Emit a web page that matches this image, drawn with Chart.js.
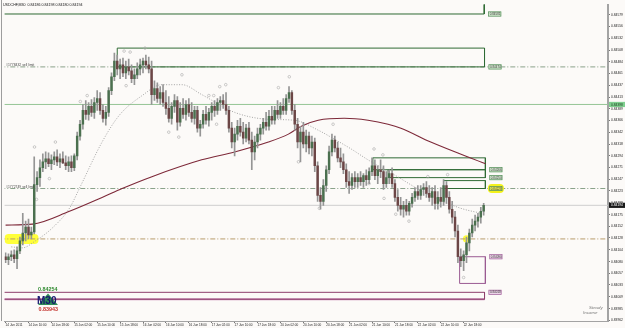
<!DOCTYPE html>
<html>
<head>
<meta charset="utf-8">
<script src="https://cdn.jsdelivr.net/npm/chart.js@4.4.1/dist/chart.umd.min.js"></script>
<style>
  html, body { margin: 0; padding: 0; background: #fcfaf8; }
  #wrap { width: 625px; height: 328px; }
</style>
</head>
<body>
<div id="wrap"><canvas id="c" width="625" height="328"></canvas></div>
<script>
// ── Data (USDCHF M30, one candle per hour) ──────────────────────────────────

const opens = [
  0.84090, 0.84084, 0.84090, 0.84094, 0.84086, 0.84102, 0.84122, 0.84138, 0.84150, 0.84134,
  0.84140, 0.84236, 0.84250, 0.84270, 0.84282, 0.84288, 0.84278, 0.84286, 0.84292, 0.84282,
  0.84288, 0.84280, 0.84274, 0.84282, 0.84270, 0.84294, 0.84334, 0.84358, 0.84386, 0.84378,
  0.84394, 0.84382, 0.84402, 0.84410, 0.84386, 0.84370, 0.84382, 0.84426, 0.84454, 0.84486,
  0.84470, 0.84478, 0.84462, 0.84474, 0.84466, 0.84450, 0.84458, 0.84470, 0.84478, 0.84486,
  0.84478, 0.84470, 0.84418, 0.84430, 0.84410, 0.84422, 0.84402, 0.84390, 0.84370, 0.84394,
  0.84406, 0.84362, 0.84390, 0.84378, 0.84398, 0.84382, 0.84370, 0.84386, 0.84350, 0.84358,
  0.84378, 0.84366, 0.84382, 0.84394, 0.84386, 0.84402, 0.84406, 0.84398, 0.84386, 0.84350,
  0.84322, 0.84338, 0.84354, 0.84342, 0.84330, 0.84350, 0.84326, 0.84302, 0.84322, 0.84338,
  0.84350, 0.84362, 0.84354, 0.84374, 0.84366, 0.84386, 0.84378, 0.84394, 0.84386, 0.84410,
  0.84422, 0.84386, 0.84358, 0.84322, 0.84342, 0.84318, 0.84334, 0.84310, 0.84322, 0.84274,
  0.84214, 0.84202, 0.84234, 0.84266, 0.84302, 0.84326, 0.84310, 0.84290, 0.84282, 0.84266,
  0.84242, 0.84234, 0.84250, 0.84242, 0.84250, 0.84242, 0.84254, 0.84246, 0.84262, 0.84274,
  0.84254, 0.84266, 0.84262, 0.84238, 0.84250, 0.84258, 0.84238, 0.84210, 0.84194, 0.84186,
  0.84194, 0.84182, 0.84198, 0.84210, 0.84222, 0.84214, 0.84226, 0.84230, 0.84218, 0.84210,
  0.84222, 0.84198, 0.84210, 0.84202, 0.84234, 0.84210, 0.84186, 0.84170, 0.84142, 0.84090,
  0.84082, 0.84094, 0.84118, 0.84138, 0.84154, 0.84162, 0.84170, 0.84182
];
const highs = [
  0.84098, 0.84096, 0.84102, 0.84104, 0.84110, 0.84130, 0.84178, 0.84162, 0.84166, 0.84150,
  0.84292, 0.84262, 0.84286, 0.84298, 0.84302, 0.84300, 0.84296, 0.84302, 0.84306, 0.84298,
  0.84302, 0.84294, 0.84292, 0.84294, 0.84298, 0.84342, 0.84366, 0.84398, 0.84406, 0.84402,
  0.84408, 0.84412, 0.84426, 0.84422, 0.84398, 0.84394, 0.84432, 0.84462, 0.84502, 0.84498,
  0.84490, 0.84492, 0.84486, 0.84490, 0.84478, 0.84470, 0.84482, 0.84490, 0.84492, 0.84498,
  0.84494, 0.84486, 0.84446, 0.84442, 0.84434, 0.84438, 0.84426, 0.84414, 0.84402, 0.84418,
  0.84414, 0.84402, 0.84410, 0.84406, 0.84410, 0.84402, 0.84394, 0.84394, 0.84366, 0.84386,
  0.84394, 0.84390, 0.84402, 0.84406, 0.84410, 0.84414, 0.84418, 0.84422, 0.84394, 0.84362,
  0.84350, 0.84366, 0.84370, 0.84362, 0.84358, 0.84362, 0.84342, 0.84334, 0.84350, 0.84358,
  0.84370, 0.84382, 0.84386, 0.84394, 0.84394, 0.84406, 0.84402, 0.84410, 0.84418, 0.84434,
  0.84426, 0.84398, 0.84370, 0.84354, 0.84362, 0.84346, 0.84342, 0.84334, 0.84330, 0.84282,
  0.84230, 0.84246, 0.84274, 0.84314, 0.84338, 0.84334, 0.84322, 0.84310, 0.84298, 0.84278,
  0.84262, 0.84258, 0.84262, 0.84258, 0.84262, 0.84258, 0.84266, 0.84270, 0.84290, 0.84286,
  0.84274, 0.84286, 0.84274, 0.84262, 0.84266, 0.84270, 0.84246, 0.84226, 0.84210, 0.84202,
  0.84206, 0.84202, 0.84218, 0.84230, 0.84234, 0.84234, 0.84238, 0.84242, 0.84234, 0.84230,
  0.84234, 0.84222, 0.84230, 0.84246, 0.84242, 0.84222, 0.84202, 0.84182, 0.84154, 0.84106,
  0.84102, 0.84130, 0.84146, 0.84166, 0.84174, 0.84178, 0.84190, 0.84198
];
const lows = [
  0.84078, 0.84074, 0.84082, 0.84078, 0.84066, 0.84096, 0.84114, 0.84122, 0.84126, 0.84126,
  0.84136, 0.84222, 0.84232, 0.84262, 0.84268, 0.84272, 0.84266, 0.84276, 0.84274, 0.84270,
  0.84278, 0.84266, 0.84262, 0.84262, 0.84264, 0.84286, 0.84326, 0.84348, 0.84368, 0.84366,
  0.84374, 0.84370, 0.84386, 0.84378, 0.84362, 0.84356, 0.84374, 0.84418, 0.84446, 0.84458,
  0.84450, 0.84454, 0.84450, 0.84458, 0.84442, 0.84438, 0.84450, 0.84458, 0.84462, 0.84470,
  0.84462, 0.84398, 0.84406, 0.84402, 0.84398, 0.84394, 0.84378, 0.84362, 0.84358, 0.84382,
  0.84346, 0.84354, 0.84370, 0.84366, 0.84374, 0.84362, 0.84358, 0.84342, 0.84334, 0.84350,
  0.84358, 0.84354, 0.84366, 0.84374, 0.84378, 0.84386, 0.84390, 0.84378, 0.84342, 0.84310,
  0.84294, 0.84326, 0.84334, 0.84318, 0.84322, 0.84318, 0.84266, 0.84286, 0.84310, 0.84326,
  0.84338, 0.84346, 0.84346, 0.84358, 0.84358, 0.84370, 0.84370, 0.84378, 0.84378, 0.84402,
  0.84378, 0.84346, 0.84310, 0.84282, 0.84310, 0.84302, 0.84298, 0.84294, 0.84262, 0.84202,
  0.84186, 0.84194, 0.84222, 0.84258, 0.84294, 0.84302, 0.84282, 0.84270, 0.84258, 0.84230,
  0.84218, 0.84226, 0.84230, 0.84230, 0.84234, 0.84230, 0.84234, 0.84238, 0.84254, 0.84246,
  0.84238, 0.84250, 0.84226, 0.84230, 0.84238, 0.84230, 0.84202, 0.84182, 0.84174, 0.84170,
  0.84174, 0.84174, 0.84190, 0.84202, 0.84206, 0.84206, 0.84214, 0.84210, 0.84202, 0.84194,
  0.84186, 0.84186, 0.84190, 0.84194, 0.84198, 0.84178, 0.84158, 0.84130, 0.84078, 0.84070,
  0.84062, 0.84078, 0.84102, 0.84130, 0.84142, 0.84150, 0.84158, 0.84174
];
const closes = [
  0.84084, 0.84090, 0.84094, 0.84086, 0.84102, 0.84122, 0.84138, 0.84150, 0.84134, 0.84140,
  0.84236, 0.84250, 0.84270, 0.84282, 0.84288, 0.84278, 0.84286, 0.84292, 0.84282, 0.84288,
  0.84280, 0.84274, 0.84282, 0.84270, 0.84294, 0.84334, 0.84358, 0.84386, 0.84378, 0.84394,
  0.84382, 0.84402, 0.84410, 0.84386, 0.84370, 0.84382, 0.84426, 0.84454, 0.84486, 0.84470,
  0.84478, 0.84462, 0.84474, 0.84466, 0.84450, 0.84458, 0.84470, 0.84478, 0.84486, 0.84478,
  0.84470, 0.84418, 0.84430, 0.84410, 0.84422, 0.84402, 0.84390, 0.84370, 0.84394, 0.84406,
  0.84362, 0.84390, 0.84378, 0.84398, 0.84382, 0.84370, 0.84386, 0.84350, 0.84358, 0.84378,
  0.84366, 0.84382, 0.84394, 0.84386, 0.84402, 0.84406, 0.84398, 0.84386, 0.84350, 0.84322,
  0.84338, 0.84354, 0.84342, 0.84330, 0.84350, 0.84326, 0.84302, 0.84322, 0.84338, 0.84350,
  0.84362, 0.84354, 0.84374, 0.84366, 0.84386, 0.84378, 0.84394, 0.84386, 0.84410, 0.84422,
  0.84386, 0.84358, 0.84322, 0.84342, 0.84318, 0.84334, 0.84310, 0.84322, 0.84274, 0.84214,
  0.84202, 0.84234, 0.84266, 0.84302, 0.84326, 0.84310, 0.84290, 0.84282, 0.84266, 0.84242,
  0.84234, 0.84250, 0.84242, 0.84250, 0.84242, 0.84254, 0.84246, 0.84262, 0.84274, 0.84254,
  0.84266, 0.84262, 0.84238, 0.84250, 0.84258, 0.84238, 0.84210, 0.84194, 0.84186, 0.84194,
  0.84182, 0.84198, 0.84210, 0.84222, 0.84214, 0.84226, 0.84230, 0.84218, 0.84210, 0.84222,
  0.84198, 0.84210, 0.84202, 0.84234, 0.84210, 0.84186, 0.84170, 0.84142, 0.84090, 0.84082,
  0.84094, 0.84118, 0.84138, 0.84154, 0.84162, 0.84170, 0.84182, 0.84194
];

// moving averages (bar index, price)
const slowMaX = [0, 9.4, 22.3, 33.7, 40.7, 51.1, 68.5, 80, 91.8, 98.8, 103.3, 109.2, 118.3, 126.6, 133.6, 138.1, 148.5, 167.7];
const slowMaY = [0.84154, 0.84156, 0.84182, 0.84210, 0.84228, 0.84252, 0.84286, 0.84302, 0.84322, 0.84338,
                 0.84354, 0.84366, 0.84370, 0.84366, 0.84358, 0.84350, 0.84322, 0.84278];
const fastMaX = [2, 5.9, 10.4, 16.3, 22.3, 26.1, 33.7, 39.7, 47.7, 54.6, 61.6, 68.5, 80, 91.8, 100.9,
                 109.2, 114.8, 120.7, 126.6, 135.7, 147.5, 159, 166];
const fastMaY = [0.84110, 0.84108, 0.84122, 0.84148, 0.84188, 0.84232, 0.84322, 0.84376, 0.84416, 0.84438,
                 0.84438, 0.84418, 0.84382, 0.84368, 0.84366, 0.84346, 0.84328, 0.84308, 0.84286, 0.84256,
                 0.84216, 0.84188, 0.84178];

// fractal dots
const fractalX = [41.4, 43.5, 48.7, 61.6, 42.1, 28.5, 26.1, 17.4, 10.1, 15.3, 57, 60.5, 99.1, 95.3, 76.9, 74.8,
                  73.7, 71, 72.7, 102.3, 114.4, 128.7, 131.8, 127, 132.2, 109.6, 147.5, 136.3, 140.9, 154.4, 160, 10.8];
const fractalY = [0.84506, 0.84504, 0.84512, 0.84458, 0.84436, 0.84416, 0.84404, 0.84322, 0.84312, 0.84248,
                  0.84342, 0.84332, 0.84454, 0.84432, 0.84438, 0.84434, 0.84358, 0.84416, 0.84416, 0.84282,
                  0.84358, 0.84308, 0.84296, 0.84238, 0.84208, 0.84188, 0.84252, 0.84176, 0.84162, 0.84256,
                  0.84048, 0.84206];

// rectangles
const greenBoxFrom = [-5, 39, 128.3, 133.6, 153];
const greenBoxTo   = [167.2, 167.3, 167.6, 167.6, 167.6];
const greenBoxHigh = [0.84700, 0.84512, 0.84290, 0.84266, 0.84244];
const greenBoxLow  = [0.84581, 0.84474, 0.84266, 0.84250, 0.84228];
const purpleBoxFrom = [158.6, -5];
const purpleBoxTo   = [167.6, 167.3];
const purpleBoxHigh = [0.84090, 0.84018];
const purpleBoxLow  = [0.84036, 0.84004];

// horizontal levels
const greenLevel = 0.84398;
const bidPrice = 0.84194;
const orderLevels = [0.84474, 0.84228];
const orderNames = ["#1778432 sell limit", "#1772749 sell limit"];
const tanLevel = 0.84126;

// highlights
const yellowZone = { from: -0.35, to: 11.5, high: 0.84136, low: 0.84116 };
const yellowDot = { x: 161, y: 0.84126 };

// axes
const timeTicks = [0, 8, 16, 24, 32, 40, 48, 56, 64, 72, 80, 88, 96, 104, 112, 120, 128, 136, 144, 152, 160];
const timeLabels = ["14 Jun 2011", "14 Jun 10:00", "14 Jun 18:00", "15 Jun 02:00", "15 Jun 10:00", "15 Jun 18:00",
  "16 Jun 02:00", "16 Jun 10:00", "16 Jun 18:00", "17 Jun 02:00", "17 Jun 10:00", "17 Jun 18:00",
  "20 Jun 02:00", "20 Jun 10:00", "20 Jun 18:00", "21 Jun 02:00", "21 Jun 10:00", "21 Jun 18:00",
  "22 Jun 02:00", "22 Jun 10:00", "22 Jun 18:00"];
const priceTicks = [0.84579, 0.84556, 0.84532, 0.84508, 0.84484, 0.84461, 0.84437, 0.84413, 0.84389, 0.84366,
  0.84342, 0.84318, 0.84294, 0.84271, 0.84247, 0.84223, 0.84199, 0.84175, 0.84152, 0.84128,
  0.84104, 0.84080, 0.84057, 0.84033, 0.84009, 0.83985, 0.83962];

const titleText = "USDCHF,M30  0.84186 0.84198 0.84180 0.84194";
const dayHigh = "0.84254";
const dayLow = "0.83943";

// ── Helpers ─────────────────────────────────────────────────────────────────

const X_MIN = -0.348, X_MAX = 210.43;
const FONT = '"Liberation Sans", Arial, sans-serif';

function rect(x0, x1, hi, lo) {
  return [{ x: x0, y: hi }, { x: x1, y: hi }, { x: x1, y: lo }, { x: x0, y: lo }, { x: x0, y: hi }];
}
function hline(p) {
  return [{ x: X_MIN - 5, y: p }, { x: X_MAX + 5, y: p }];
}
function lineSet(data, color, extra) {
  return Object.assign({ type: "line", data, borderColor: color, borderWidth: 1, pointRadius: 0,
    fill: false, tension: 0, order: 5 }, extra || {});
}

const datasets = [];

// candles
datasets.push({
  type: "bar", data: highs.map((h, i) => ({ x: i, y: [lows[i], h] })),
  backgroundColor: "#959595", barThickness: 1, grouped: false, order: 2
});
datasets.push({
  type: "bar", data: opens.map((o, i) => ({ x: i, y: [o, closes[i]] })),
  backgroundColor: opens.map((o, i) => closes[i] >= o ? "#4b704f" : "#6c4646"),
  barThickness: 1.8, grouped: false, order: 1
});

// moving averages
datasets.push(lineSet(slowMaX.map((x, i) => ({ x, y: slowMaY[i] })), "#7d2838",
  { borderWidth: 1.1, cubicInterpolationMode: "monotone", order: 3 }));
datasets.push(lineSet(fastMaX.map((x, i) => ({ x, y: fastMaY[i] })), "#9a9a9a",
  { borderWidth: 0.9, borderDash: [1, 1.6], cubicInterpolationMode: "monotone", order: 3 }));

// fractals
datasets.push({
  type: "line", showLine: false, data: fractalX.map((x, i) => ({ x, y: fractalY[i] })),
  pointRadius: 1.3, pointBorderWidth: 0.6, pointBorderColor: "#aaaaaa", pointBackgroundColor: "rgba(0,0,0,0)",
  order: 4
});

// levels
datasets.push(lineSet(hline(greenLevel), "#95c595", { order: 6 }));
datasets.push(lineSet(hline(bidPrice), "#cfcfcf", { order: 6 }));
orderLevels.forEach(p => datasets.push(lineSet(hline(p), "#8aa28a", { borderDash: [5, 2, 1, 2], order: 6 })));
datasets.push(lineSet(hline(tanLevel), "#b89c6c", { borderDash: [5, 2, 1, 2], order: 6 }));

// rectangles
greenBoxFrom.forEach((f, i) => datasets.push(lineSet(rect(f, greenBoxTo[i], greenBoxHigh[i], greenBoxLow[i]), "#2f6a34")));
datasets.push(lineSet(rect(purpleBoxFrom[0], purpleBoxTo[0], purpleBoxHigh[0], purpleBoxLow[0]), "#9a5a92"));
datasets.push(lineSet(rect(purpleBoxFrom[1], purpleBoxTo[1], purpleBoxHigh[1], purpleBoxLow[1]), "#8e3f6c"));
datasets.push(lineSet(hline(purpleBoxLow[1]).map((p, i) => ({ x: i ? purpleBoxTo[1] : purpleBoxFrom[1], y: p.y })),
  "#c98fb7", { borderWidth: 2 }));

// ── Drawing extras ──────────────────────────────────────────────────────────

function tag(c, x, y, text, fill, stroke) {
  c.fillStyle = fill;
  c.fillRect(x, y - 2.5, 13, 5);
  c.strokeStyle = stroke;
  c.lineWidth = 0.7;
  c.strokeRect(x + 0.35, y - 2.15, 12.3, 4.3);
  c.fillStyle = "#333";
  c.font = "3px " + FONT;
  c.textBaseline = "middle";
  c.textAlign = "left";
  c.fillText(text, x + 1.4, y + 0.2);
}

const extras = {
  id: "extras",
  beforeDraw(chart) {
    const c = chart.ctx;
    c.save();
    c.fillStyle = "#fcfaf8";
    c.fillRect(0, 0, chart.width, chart.height);
    c.restore();
  },
  beforeDatasetsDraw(chart) {
    const c = chart.ctx, xs = chart.scales.x, ys = chart.scales.y, a = chart.chartArea;
    c.save();
    c.beginPath();
    c.rect(a.left, a.top, a.right - a.left, a.bottom - a.top);
    c.clip();
    c.fillStyle = "#ffff3a";
    const x0 = xs.getPixelForValue(yellowZone.from), x1 = xs.getPixelForValue(yellowZone.to);
    const y0 = ys.getPixelForValue(yellowZone.high), y1 = ys.getPixelForValue(yellowZone.low);
    c.beginPath();
    c.roundRect(x0, y0, x1 - x0, y1 - y0, 4);
    c.fill();
    c.beginPath();
    c.arc(xs.getPixelForValue(yellowDot.x), ys.getPixelForValue(yellowDot.y), 3.6, 0, Math.PI * 2);
    c.fill();
    c.restore();
  },
  afterDatasetsDraw(chart) {
    const c = chart.ctx, xs = chart.scales.x, ys = chart.scales.y, a = chart.chartArea;
    c.save();

    // labels next to the rectangles
    greenBoxLow.forEach((p, i) => {
      const x = xs.getPixelForValue(greenBoxTo[i]) + 4, y = ys.getPixelForValue(p);
      if (i === 4) {
        c.fillStyle = "#f4f21c";
        c.beginPath();
        c.roundRect(x - 1.5, y - 4.5, 16, 9, 4);
        c.fill();
      }
      tag(c, x, y, p.toFixed(5), i === 4 ? "#e9ef5a" : "#d6ebd2", "#4f8a55");
    });
    purpleBoxHigh.forEach((p, i) => {
      const x = xs.getPixelForValue(purpleBoxTo[i]) + 4, y = ys.getPixelForValue(p);
      tag(c, x, y, p.toFixed(5), "#ecd3e8", "#a0629a");
    });

    // order names on the left
    c.fillStyle = "#4a4a4a";
    c.font = "3.4px " + FONT;
    c.textAlign = "left";
    c.textBaseline = "alphabetic";
    orderLevels.forEach((p, i) => c.fillText(orderNames[i], a.left + 1.5, ys.getPixelForValue(p) - 0.8));

    // price axis markers
    const gy = ys.getPixelForValue(greenLevel);
    c.fillStyle = "#7fcf8f";
    c.fillRect(a.right + 1, gy - 2.6, 16, 5.2);
    c.fillStyle = "#1d3d1d";
    c.font = "3.3px " + FONT;
    c.textBaseline = "middle";
    c.fillText(greenLevel.toFixed(5), a.right + 3, gy + 0.2);
    const by = ys.getPixelForValue(bidPrice);
    c.fillStyle = "#1a1a1a";
    c.fillRect(a.right + 1, by - 2.6, 16, 5.2);
    c.fillStyle = "#ffffff";
    c.fillText(bidPrice.toFixed(5), a.right + 3, by + 0.2);

    // title
    c.fillStyle = "#111";
    c.font = "3.6px " + FONT;
    c.textBaseline = "middle";
    c.fillText(titleText, 3, 4.5);

    // day range widget
    c.fillStyle = "#2e8b57";
    c.beginPath();
    c.moveTo(48, 293.5);
    c.lineTo(58, 305);
    c.lineTo(38, 305);
    c.closePath();
    c.fill();
    c.font = "bold 5.4px " + FONT;
    c.fillStyle = "#2f8a2f";
    c.fillText(dayHigh, 38, 289.5);
    c.fillStyle = "#c3312c";
    c.fillText(dayLow, 38.5, 309.5);
    c.font = "bold 10px " + FONT;
    c.fillStyle = "#17176f";
    c.textBaseline = "alphabetic";
    c.fillText("M30", 37, 304);

    // watermark
    c.fillStyle = "#7a7a7a";
    c.font = "italic 4.4px " + FONT;
    c.fillText("Steady", 589, 309);
    c.fillText("Income", 583, 313.5);

    // frame
    c.strokeStyle = "#9d9d9d";
    c.lineWidth = 1;
    c.beginPath();
    c.moveTo(1.5, 0);
    c.lineTo(1.5, a.bottom);
    c.stroke();
    c.restore();
  }
};

new Chart(document.getElementById("c"), {
  type: "bar",
  data: { datasets },
  options: {
    responsive: false,
    animation: false,
    devicePixelRatio: 1,
    layout: { padding: { left: 2, top: 1, right: 0, bottom: 0 } },
    plugins: { legend: { display: false }, tooltip: { enabled: false } },
    scales: {
      x: {
        type: "linear", min: X_MIN, max: X_MAX, offset: false,
        afterBuildTicks: s => { s.ticks = timeTicks.map(v => ({ value: v })); },
        afterFit: s => { s.height = 7; },
        grid: { drawOnChartArea: false, offset: false, tickLength: 2, color: "#555", lineWidth: 0.8 },
        border: { display: true, color: "#a3a3a3", width: 1 },
        ticks: {
          autoSkip: false, maxRotation: 0, minRotation: 0, align: "start", padding: 0,
          color: "#222", font: { family: FONT, size: 3.1 },
          callback: (v, i) => timeLabels[i]
        }
      },
      y: {
        type: "linear", position: "right", min: 0.8396, max: 0.8460, beginAtZero: false,
        afterBuildTicks: s => { s.ticks = priceTicks.map(v => ({ value: v })); },
        afterFit: s => { s.width = 17; },
        grid: { drawOnChartArea: false, tickLength: 2, color: "#555", lineWidth: 0.8 },
        border: { display: true, color: "#a3a3a3", width: 2 },
        ticks: {
          padding: 1, color: "#222", font: { family: FONT, size: 3.3 },
          callback: v => v.toFixed(5)
        }
      }
    }
  },
  plugins: [extras]
});
</script>
</body>
</html>
